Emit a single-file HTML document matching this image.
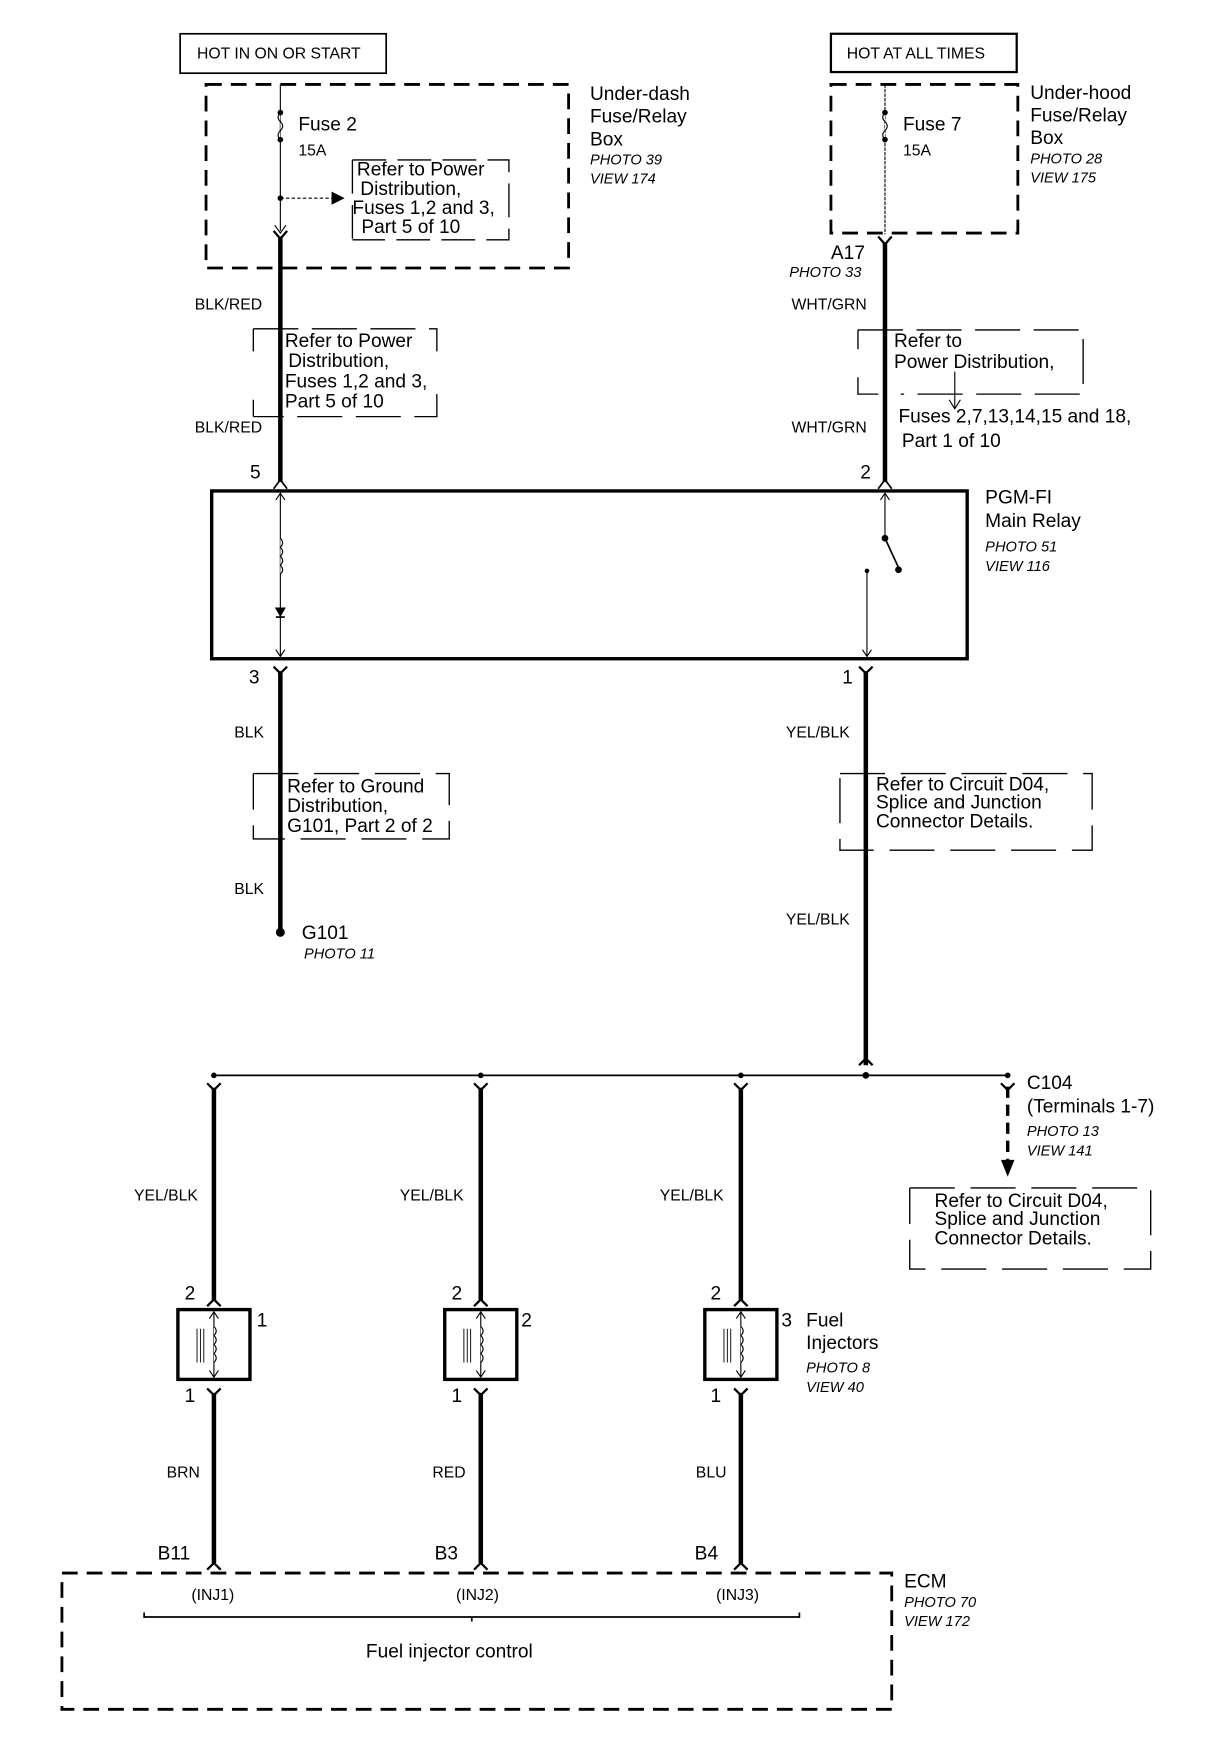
<!DOCTYPE html>
<html><head><meta charset="utf-8"><style>
html,body{margin:0;padding:0;background:#fff;}
svg{display:block;}
text{font-family:"Liberation Sans",sans-serif;fill:#000;}
.s{font-size:14px;}
.m{font-size:17px;}
.i{font-size:13px;font-style:italic;}
</style></head><body>
<svg width="1216" height="1760" viewBox="0 0 1080 1563" preserveAspectRatio="none" xmlns="http://www.w3.org/2000/svg">
<g fill="none" stroke="#000">
<rect x="160" y="30" width="183" height="35" stroke-width="1.5"/>
<rect x="738" y="30" width="165" height="34" stroke-width="2"/>
<rect x="183" y="75" width="322" height="163" stroke-width="2.5" stroke-dasharray="14,8"/>
<rect x="738" y="75" width="166" height="132" stroke-width="2.5" stroke-dasharray="14,8"/>
<line x1="249" y1="75" x2="249" y2="205" stroke-width="1"/>
<path d="M249 100 q-4 4 0 8 q4 4 0 8 q-4 4 0 8" stroke-width="1" fill="#fff"/>
<line x1="249" y1="176" x2="295" y2="176" stroke-width="1" stroke-dasharray="3,2"/>
<path d="M295 171 L305 176 L295 181 Z" fill="#000"/>
<path d="M244 200 L249 207 L254 200" stroke-width="1"/>
<line x1="249" y1="210" x2="249" y2="428" stroke-width="4"/>
<path d="M243 205 L249 212 L255 205" stroke-width="2"/>
<path d="M313 142 V213 M313 142 H452 V213 H313" stroke-width="1.2" stroke-dasharray="30,10"/>
<path d="M225 292 H388 V312 M388 350 V370 H225 M225 292 V312 M225 355 V370" stroke-width="1.2" stroke-dasharray="40,12"/>
<line x1="786" y1="75" x2="786" y2="208" stroke-width="1" stroke-dasharray="3,1"/>
<path d="M786 100 q-4 4 0 8 q4 4 0 8 q-4 4 0 8" stroke-width="1" fill="#fff"/>
<line x1="786" y1="215" x2="786" y2="428" stroke-width="4"/>
<path d="M780 210 L786 217 L792 210" stroke-width="2"/>
<path d="M762 293 H962 V350 H800 M762 293 V310 M762 335 V350 H780" stroke-width="1.2" stroke-dasharray="40,12"/>
<line x1="848" y1="330" x2="848" y2="362" stroke-width="1"/>
<path d="M843 355 L848 363 L853 355" stroke-width="1"/>
<rect x="188" y="436" width="671" height="149" stroke-width="3"/>
<path d="M243 434 L249 426 L255 434" stroke-width="1.5"/>
<path d="M780 434 L786 426 L792 434" stroke-width="1.5"/>
<line x1="249" y1="438" x2="249" y2="583" stroke-width="1"/>
<path d="M245 444 L249 438 L253 444 M245 577 L249 583 L253 577" stroke-width="1"/>
<path d="M249 478 q4 4 0 8 q4 4 0 8 q4 4 0 8 q4 4 0 8" stroke-width="1" fill="#fff"/>
<path d="M245 540 L253 540 L249 547 Z" fill="#000"/>
<line x1="245" y1="548" x2="253" y2="548" stroke-width="1.5"/>
<line x1="786" y1="438" x2="786" y2="478" stroke-width="1"/>
<path d="M782 444 L786 438 L790 444" stroke-width="1"/>
<line x1="786" y1="478" x2="798" y2="504" stroke-width="1.5"/>
<line x1="770" y1="507" x2="770" y2="583" stroke-width="1"/>
<path d="M766 577 L770 583 L774 577" stroke-width="1"/>
<path d="M243 592 L249 598 L255 592" stroke-width="2"/>
<line x1="249" y1="596" x2="249" y2="826" stroke-width="4"/>
<path d="M763 592 L769 598 L775 592" stroke-width="2"/>
<line x1="769" y1="596" x2="769" y2="946" stroke-width="4"/>
<path d="M763 946 L769 940 L775 946" stroke-width="2"/>
<path d="M225 687 H399 V745 H225 V687" stroke-width="1.2" stroke-dasharray="40,14"/>
<path d="M746 687 H970 V755 H746 V687" stroke-width="1.2" stroke-dasharray="40,14"/>
<line x1="190" y1="955" x2="895" y2="955" stroke-width="1.5"/>
<line x1="895" y1="965" x2="895" y2="1030" stroke-width="3" stroke-dasharray="10,6"/>
<path d="M889 962 L895 968 L901 962" stroke-width="2"/>
<path d="M808 1055 H1022 V1127 H808 V1055" stroke-width="1.2" stroke-dasharray="40,14"/>
<g id="inj">
<path d="M184 962 L190 968 L196 962" stroke-width="2"/>
<line x1="190" y1="966" x2="190" y2="1155" stroke-width="4"/>
<path d="M184 1160 L190 1154 L196 1160" stroke-width="2"/>
<rect x="158" y="1163" width="64" height="62" stroke-width="3"/>
<line x1="190" y1="1165" x2="190" y2="1223" stroke-width="1"/>
<path d="M186 1171 L190 1165 L194 1171 M186 1217 L190 1223 L194 1217" stroke-width="1"/>
<path d="M190 1178 q4 4 0 8 q4 4 0 8 q4 4 0 8 q4 4 0 8" stroke-width="1" fill="#fff"/>
<path d="M175 1180 V1210 M178 1180 V1210 M181 1180 V1210" stroke-width="0.8"/>
<path d="M184 1233 L190 1239 L196 1233" stroke-width="2"/>
<line x1="190" y1="1237" x2="190" y2="1388" stroke-width="4"/>
<path d="M184 1394 L190 1388 L196 1394" stroke-width="2"/>
</g>
<use href="#inj" x="237"/>
<use href="#inj" x="468"/>
<rect x="55" y="1397" width="737" height="121" stroke-width="2.5" stroke-dasharray="14,8"/>
<path d="M128 1432 V1436 H710 V1432 M419 1436 V1440" stroke-width="1.5"/>
</g>
<g fill="#000">
<circle cx="249" cy="100" r="2.5"/><circle cx="249" cy="124" r="2.5"/><circle cx="249" cy="176" r="2.5"/>
<circle cx="786" cy="100" r="2.5"/><circle cx="786" cy="124" r="2.5"/>
<circle cx="786" cy="478" r="3"/><circle cx="798" cy="506" r="3"/><circle cx="770" cy="507" r="2"/>
<circle cx="249" cy="828" r="4"/>
<circle cx="190" cy="955" r="2.5"/><circle cx="427" cy="955" r="2.5"/><circle cx="658" cy="955" r="2.5"/><circle cx="769" cy="955" r="3"/><circle cx="895" cy="955" r="2.5"/>
<path d="M889 1030 L901 1030 L895 1045 Z"/>
</g>
<text x="175" y="52" class="s">HOT IN ON OR START</text>
<text x="752" y="52" class="s">HOT AT ALL TIMES</text>
<text x="265" y="116" class="m">Fuse 2</text><text x="265" y="138" class="s">15A</text>
<text x="317" y="156" class="m">Refer to Power</text><text x="320" y="173" class="m">Distribution,</text><text x="313" y="190" class="m">Fuses 1,2 and 3,</text><text x="321" y="207" class="m">Part 5 of 10</text>
<text x="524" y="89" class="m">Under-dash</text><text x="524" y="109" class="m">Fuse/Relay</text><text x="524" y="129" class="m">Box</text>
<text x="524" y="146" class="i">PHOTO 39</text><text x="524" y="163" class="i">VIEW 174</text>
<text x="802" y="116" class="m">Fuse 7</text><text x="802" y="138" class="s">15A</text>
<text x="915" y="88" class="m">Under-hood</text><text x="915" y="108" class="m">Fuse/Relay</text><text x="915" y="128" class="m">Box</text>
<text x="915" y="145" class="i">PHOTO 28</text><text x="915" y="162" class="i">VIEW 175</text>
<text x="173" y="275" class="s">BLK/RED</text><text x="173" y="384" class="s">BLK/RED</text>
<text x="253" y="308" class="m">Refer to Power</text><text x="256" y="326" class="m">Distribution,</text><text x="253" y="344" class="m">Fuses 1,2 and 3,</text><text x="253" y="362" class="m">Part 5 of 10</text>
<text x="738" y="230" class="m">A17</text><text x="701" y="246" class="i">PHOTO 33</text>
<text x="703" y="275" class="s">WHT/GRN</text><text x="703" y="384" class="s">WHT/GRN</text>
<text x="794" y="308" class="m">Refer to</text><text x="794" y="327" class="m">Power Distribution,</text>
<text x="798" y="375" class="m">Fuses 2,7,13,14,15 and 18,</text><text x="801" y="397" class="m">Part 1 of 10</text>
<text x="222" y="425" class="m">5</text><text x="764" y="425" class="m">2</text>
<text x="875" y="447" class="m">PGM-FI</text><text x="875" y="468" class="m">Main Relay</text>
<text x="875" y="490" class="i">PHOTO 51</text><text x="875" y="507" class="i">VIEW 116</text>
<text x="221" y="607" class="m">3</text><text x="748" y="607" class="m">1</text>
<text x="208" y="655" class="s">BLK</text><text x="208" y="794" class="s">BLK</text>
<text x="255" y="704" class="m">Refer to Ground</text><text x="255" y="721" class="m">Distribution,</text><text x="255" y="739" class="m">G101, Part 2 of 2</text>
<text x="268" y="834" class="m">G101</text><text x="270" y="851" class="i">PHOTO 11</text>
<text x="698" y="655" class="s">YEL/BLK</text><text x="698" y="821" class="s">YEL/BLK</text>
<text x="778" y="702" class="m">Refer to Circuit D04,</text><text x="778" y="718" class="m">Splice and Junction</text><text x="778" y="735" class="m">Connector Details.</text>
<text x="912" y="967" class="m">C104</text><text x="912" y="988" class="m">(Terminals 1-7)</text>
<text x="912" y="1009" class="i">PHOTO 13</text><text x="912" y="1026" class="i">VIEW 141</text>
<text x="830" y="1072" class="m">Refer to Circuit D04,</text><text x="830" y="1088" class="m">Splice and Junction</text><text x="830" y="1105" class="m">Connector Details.</text>
<text x="119" y="1066" class="s">YEL/BLK</text><text x="355" y="1066" class="s">YEL/BLK</text><text x="586" y="1066" class="s">YEL/BLK</text>
<text x="164" y="1154" class="m">2</text><text x="401" y="1154" class="m">2</text><text x="631" y="1154" class="m">2</text>
<text x="228" y="1178" class="m">1</text><text x="463" y="1178" class="m">2</text><text x="694" y="1178" class="m">3</text>
<text x="716" y="1178" class="m">Fuel</text><text x="716" y="1198" class="m">Injectors</text>
<text x="716" y="1219" class="i">PHOTO 8</text><text x="716" y="1236" class="i">VIEW 40</text>
<text x="164" y="1245" class="m">1</text><text x="401" y="1245" class="m">1</text><text x="631" y="1245" class="m">1</text>
<text x="148" y="1312" class="s">BRN</text><text x="384" y="1312" class="s">RED</text><text x="618" y="1312" class="s">BLU</text>
<text x="140" y="1385" class="m">B11</text><text x="386" y="1385" class="m">B3</text><text x="617" y="1385" class="m">B4</text>
<text x="170" y="1421" class="s">(INJ1)</text><text x="405" y="1421" class="s">(INJ2)</text><text x="636" y="1421" class="s">(INJ3)</text>
<text x="803" y="1410" class="m">ECM</text><text x="803" y="1427" class="i">PHOTO 70</text><text x="803" y="1444" class="i">VIEW 172</text>
<text x="325" y="1472" class="m">Fuel injector control</text>
</svg>
</body></html>
